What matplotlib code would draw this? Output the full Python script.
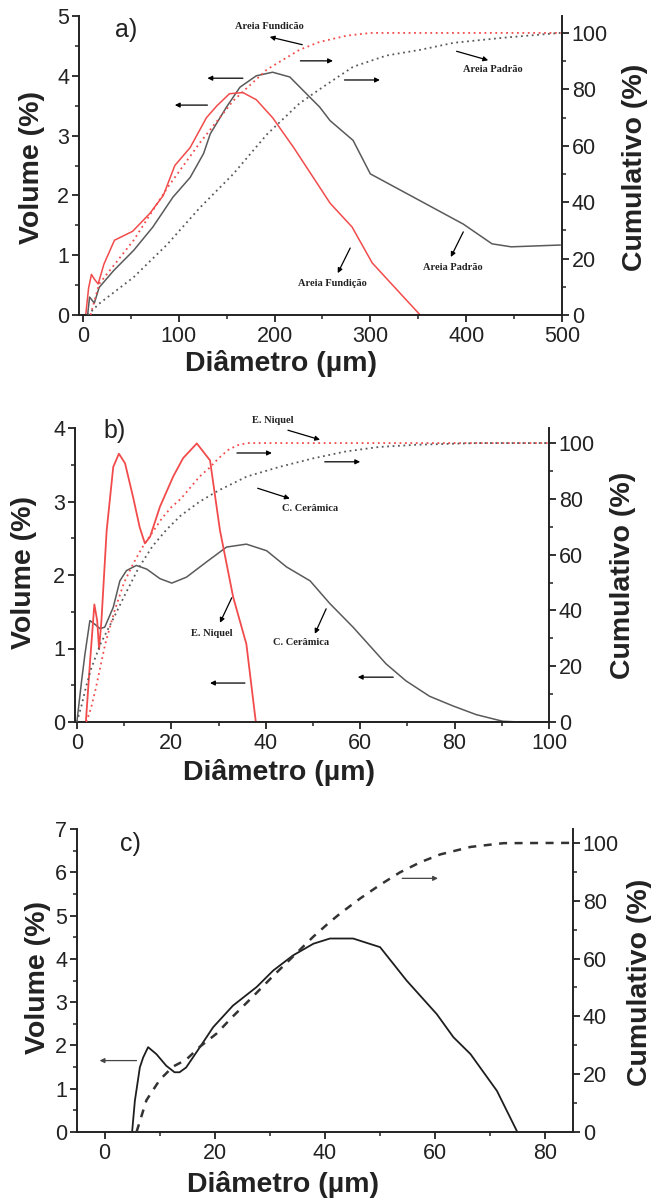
import matplotlib
matplotlib.use("Agg")
import matplotlib.pyplot as plt
from matplotlib.ticker import MultipleLocator

plt.rcParams['font.family'] = ['Liberation Sans', 'DejaVu Sans']

# ---------------- Panel a data ----------------
a_fund_x = [0, 3, 6, 9, 12, 16, 22, 33, 52, 70, 84, 96, 112, 129, 140, 153, 167, 181, 198, 220, 247, 258, 281, 302, 352, 400, 500]
a_fund_v = [0, 0, 0.45, 0.68, 0.6, 0.52, 0.85, 1.25, 1.4, 1.7, 2.0, 2.5, 2.8, 3.3, 3.5, 3.7, 3.72, 3.6, 3.3, 2.8, 2.14, 1.87, 1.47, 0.87, 0, 0, 0]
a_pad_x = [0, 5, 7, 12, 17, 32, 53, 73, 94, 112, 126, 133, 150, 164, 181, 198, 216, 237, 247, 258, 282, 300, 352, 397, 427, 447, 498]
a_pad_v = [0, 0, 0.3, 0.2, 0.46, 0.74, 1.08, 1.47, 1.97, 2.3, 2.7, 3.03, 3.48, 3.81, 4.0, 4.06, 3.98, 3.64, 3.48, 3.25, 2.92, 2.36, 1.91, 1.52, 1.19, 1.14, 1.17]
a_fund_cx = [8, 17, 53, 88, 122, 157, 192, 226, 247, 275, 300, 500]
a_fund_c = [0, 11, 26.5, 45, 61, 76, 87, 94, 96.8, 99, 100, 100]
a_pad_cx = [5, 17, 53, 88, 122, 157, 192, 226, 247, 282, 317, 352, 387, 439, 498]
a_pad_c = [0, 4, 13.4, 25, 38, 50, 64, 75, 80, 88, 92, 94, 96.5, 98.3, 100]

# ---------------- Panel b data ----------------
b_ni_x = [0, 1.9, 2.75, 3.7, 4.3, 4.7, 5.2, 6.3, 7.7, 8.9, 10.2, 11.9, 13.3, 14.4, 15.5, 17.6, 20.4, 22.5, 25.4, 28.2, 30.3, 33.1, 35.9, 37.9, 100]
b_ni_v = [0, 0, 0.79, 1.6, 1.38, 0.99, 1.38, 2.6, 3.47, 3.65, 3.52, 3.06, 2.65, 2.43, 2.52, 2.93, 3.34, 3.59, 3.79, 3.56, 2.61, 1.7, 1.06, 0, 0]
b_cer_x = [0, 1, 1.7, 2.75, 3.8, 4.9, 5.9, 7.7, 9.1, 10.5, 12.6, 14.8, 17.6, 20.1, 23.2, 27.5, 31.7, 35.9, 40.2, 44.4, 49.4, 53.6, 58.5, 65.5, 69.7, 74.7, 79.6, 84.6, 90.2, 93.8, 100]
b_cer_v = [0, 0.56, 0.92, 1.38, 1.33, 1.27, 1.29, 1.56, 1.92, 2.06, 2.13, 2.08, 1.95, 1.89, 1.97, 2.18, 2.38, 2.42, 2.33, 2.11, 1.92, 1.61, 1.29, 0.79, 0.56, 0.35, 0.22, 0.10, 0.01, 0, 0]
b_ni_cx = [2, 3, 4, 5, 6, 8, 10, 12, 14, 16, 18, 20, 22, 24, 26, 28, 30, 32, 34, 36, 100]
b_ni_c = [0, 5, 12, 20, 28, 40, 50, 57, 63, 68, 73, 77, 80, 84, 88, 91, 94.5, 97.5, 99.2, 100, 100]
b_cer_cx = [0, 1, 2, 3, 5, 8, 10, 13, 16, 19, 22, 26, 30, 36, 43, 50, 57, 64, 72, 85, 100]
b_cer_c = [0, 6, 13, 19, 28, 38, 45, 55, 63, 69, 74, 79, 83, 88, 91.5, 94.5, 97, 98.6, 99.4, 100, 100]

# ---------------- Panel c data ----------------
c_x = [5.0, 5.5, 6.4, 7.0, 7.9, 9.4, 11.2, 12.7, 13.6, 14.8, 17.3, 19.7, 23.3, 27.6, 30.6, 34.2, 37.9, 40.9, 45.1, 50.0, 54.8, 60.3, 63.3, 66.4, 71.2, 74.9]
c_v = [0, 0.72, 1.49, 1.72, 1.96, 1.80, 1.53, 1.38, 1.38, 1.49, 1.96, 2.42, 2.92, 3.35, 3.73, 4.08, 4.35, 4.47, 4.47, 4.27, 3.5, 2.72, 2.19, 1.80, 0.95, 0]
c_cx = [5.8, 7.6, 10.0, 12.4, 14.8, 17.3, 20.3, 23.3, 27.0, 30.6, 34.2, 37.9, 40.5, 42.7, 46.4, 50.0, 53.6, 57.3, 60.9, 66.4, 72.4, 84.5]
c_c = [0, 11, 18, 22.6, 25, 29.5, 34, 40, 47, 54, 60.7, 67.6, 72.0, 75.5, 80.8, 85.5, 89.8, 93.3, 96.0, 98.6, 99.9, 100]

RED = '#f24b4b'
GRAY = '#5a5a5a'
TICK_FS = 15.5
LAB_FS = 20.5
ANN_FONT = dict(family=['Liberation Serif', 'DejaVu Serif'], fontsize=7.5, fontweight='bold', color='#222222')
ARW = dict(arrowstyle='-|>', color='black', lw=0.9, mutation_scale=7, shrinkA=0, shrinkB=0)

W, H = 651, 1204
fig = plt.figure(figsize=(W / 100, H / 100), dpi=100)


def pos(l, r, t, b):
    return [l / W, 1 - b / H, (r - l) / W, (b - t) / H]


def style(ax, ax2, xmaj, xmin, ymaj, ymin, y2maj=20, y2min=10):
    for a in (ax, ax2):
        a.spines['top'].set_visible(False)
        for s in a.spines.values():
            s.set_linewidth(1.4)
            s.set_color('#222222')
    ax.spines['right'].set_visible(False)
    ax2.spines['left'].set_visible(False)
    ax2.spines['bottom'].set_visible(False)
    ax.xaxis.set_major_locator(MultipleLocator(xmaj))
    ax.xaxis.set_minor_locator(MultipleLocator(xmin))
    ax.yaxis.set_major_locator(MultipleLocator(ymaj))
    ax.yaxis.set_minor_locator(MultipleLocator(ymin))
    ax2.yaxis.set_major_locator(MultipleLocator(y2maj))
    ax2.yaxis.set_minor_locator(MultipleLocator(y2min))
    for a in (ax, ax2):
        a.tick_params(which='major', direction='out', length=5, width=1.3, labelsize=TICK_FS, colors='#222222', pad=2)
        a.tick_params(which='minor', direction='out', length=3, width=1.1, colors='#222222')
    ax.tick_params(axis='x', pad=3)


# ================= Panel a =================
axa = fig.add_axes(pos(79, 562, 16, 315))
axa2 = axa.twinx()
axa.set_xlim(-4, 500)
axa.set_ylim(0, 5)
axa2.set_ylim(0, 106)
axa.plot(a_pad_x, a_pad_v, color=GRAY, lw=1.1)
axa.plot(a_fund_x, a_fund_v, color=RED, lw=1.1)
axa2.plot(a_fund_cx, a_fund_c, color=RED, lw=1.3, ls=(0, (1, 2)))
axa2.plot(a_pad_cx, a_pad_c, color=GRAY, lw=1.3, ls=(0, (1, 2)))
style(axa, axa2, 100, 50, 1, 0.5)
axa.text(195, 4.82, 'Areia Fundicão', ha='center', va='center', **ANN_FONT)
axa.annotate('', xy=(195, 4.65), xytext=(229, 4.52), arrowprops=ARW)
axa.annotate('', xy=(261, 4.25), xytext=(227, 4.25), arrowprops=ARW)
axa.annotate('', xy=(130, 3.96), xytext=(167, 3.96), arrowprops=ARW)
axa.annotate('', xy=(310, 3.93), xytext=(273, 3.93), arrowprops=ARW)
axa.annotate('', xy=(96, 3.51), xytext=(130, 3.51), arrowprops=ARW)
axa.text(428, 4.10, 'Areia Padrão', ha='center', va='center', **ANN_FONT)
axa.annotate('', xy=(423, 4.26), xytext=(390, 4.41), arrowprops=ARW)
axa.text(386, 0.79, 'Areia Padrão', ha='center', va='center', **ANN_FONT)
axa.annotate('', xy=(384, 0.97), xytext=(397, 1.39), arrowprops=ARW)
axa.text(260, 0.52, 'Areia Fundição', ha='center', va='center', **ANN_FONT)
axa.annotate('', xy=(266, 0.70), xytext=(279, 1.12), arrowprops=ARW)

# ================= Panel b =================
axb = fig.add_axes(pos(75, 549, 428, 722))
axb2 = axb.twinx()
axb.set_xlim(-0.4, 100)
axb.set_ylim(0, 4)
axb2.set_ylim(0, 105.4)
axb.plot(b_cer_x, b_cer_v, color=GRAY, lw=1.1)
axb.plot(b_ni_x, b_ni_v, color=RED, lw=1.3)
axb2.plot(b_ni_cx, b_ni_c, color=RED, lw=1.3, ls=(0, (1, 2)))
axb2.plot(b_cer_cx, b_cer_c, color=GRAY, lw=1.3, ls=(0, (1, 2)))
style(axb, axb2, 20, 10, 1, 0.5)
axb.text(41.5, 4.10, 'E. Niquel', ha='center', va='center', clip_on=False, **ANN_FONT)
axb.annotate('', xy=(51.5, 3.84), xytext=(44.7, 3.97), arrowprops=ARW)
axb.annotate('', xy=(41.3, 3.66), xytext=(33.9, 3.66), arrowprops=ARW)
axb.annotate('', xy=(60, 3.54), xytext=(52.5, 3.54), arrowprops=ARW)
axb.annotate('', xy=(45.1, 3.04), xytext=(38.3, 3.18), arrowprops=ARW)
axb.text(49.4, 2.91, 'C. Cerâmica', ha='center', va='center', **ANN_FONT)
axb.annotate('', xy=(30.3, 1.35), xytext=(32.8, 1.69), arrowprops=ARW)
axb.text(28.6, 1.21, 'E. Niquel', ha='center', va='center', **ANN_FONT)
axb.annotate('', xy=(50.4, 1.20), xytext=(52.8, 1.54), arrowprops=ARW)
axb.text(47.5, 1.08, 'C. Cerâmica', ha='center', va='center', **ANN_FONT)
axb.annotate('', xy=(28.2, 0.53), xytext=(35.6, 0.53), arrowprops=ARW)
axb.annotate('', xy=(59.5, 0.61), xytext=(67, 0.61), arrowprops=ARW)

# ================= Panel c =================
axc = fig.add_axes(pos(77, 573, 829, 1132))
axc2 = axc.twinx()
axc.set_xlim(-5, 85)
axc.set_ylim(0, 7)
axc2.set_ylim(0, 104.8)
axc.plot(c_x, c_v, color='#1e1e1e', lw=1.3)
axc2.plot(c_cx, c_c, color='#333333', lw=1.8, ls=(0, (3.2, 3.0)))
style(axc, axc2, 20, 10, 1, 0.5)
ARW_C = dict(ARW, color='#444444', lw=0.9)
axc.annotate('', xy=(-0.9, 1.65), xytext=(5.8, 1.65), arrowprops=ARW_C)
axc.annotate('', xy=(60.5, 5.86), xytext=(54, 5.86), arrowprops=ARW_C)

# ================= labels =================
def ftext(x, y, s, **kw):
    fig.text(x / W, 1 - y / H, s, **kw)

BOLD = dict(fontsize=LAB_FS, fontweight='bold', color='#222222', ha='center', va='center')
ftext(32, 168, 'Volume (%)', rotation=90, **BOLD)
ftext(635, 167, 'Cumulativo (%)', rotation=90, **BOLD)
ftext(281, 363, 'Diâmetro (µm)', **BOLD)
ftext(24, 573, 'Volume (%)', rotation=90, **BOLD)
ftext(623, 575, 'Cumulativo (%)', rotation=90, **BOLD)
ftext(279, 772, 'Diâmetro (µm)', **BOLD)
ftext(38, 978, 'Volume (%)', rotation=90, **BOLD)
ftext(640, 982, 'Cumulativo (%)', rotation=90, **BOLD)
ftext(283, 1185, 'Diâmetro (µm)', **BOLD)

PL = dict(fontsize=18, color='#222222', ha='center', va='center')
ftext(126, 30, 'a)', **PL)
ftext(115, 431, 'b)', **PL)
ftext(130, 844, 'c)', **PL)

fig.savefig('out.png', dpi=100)
